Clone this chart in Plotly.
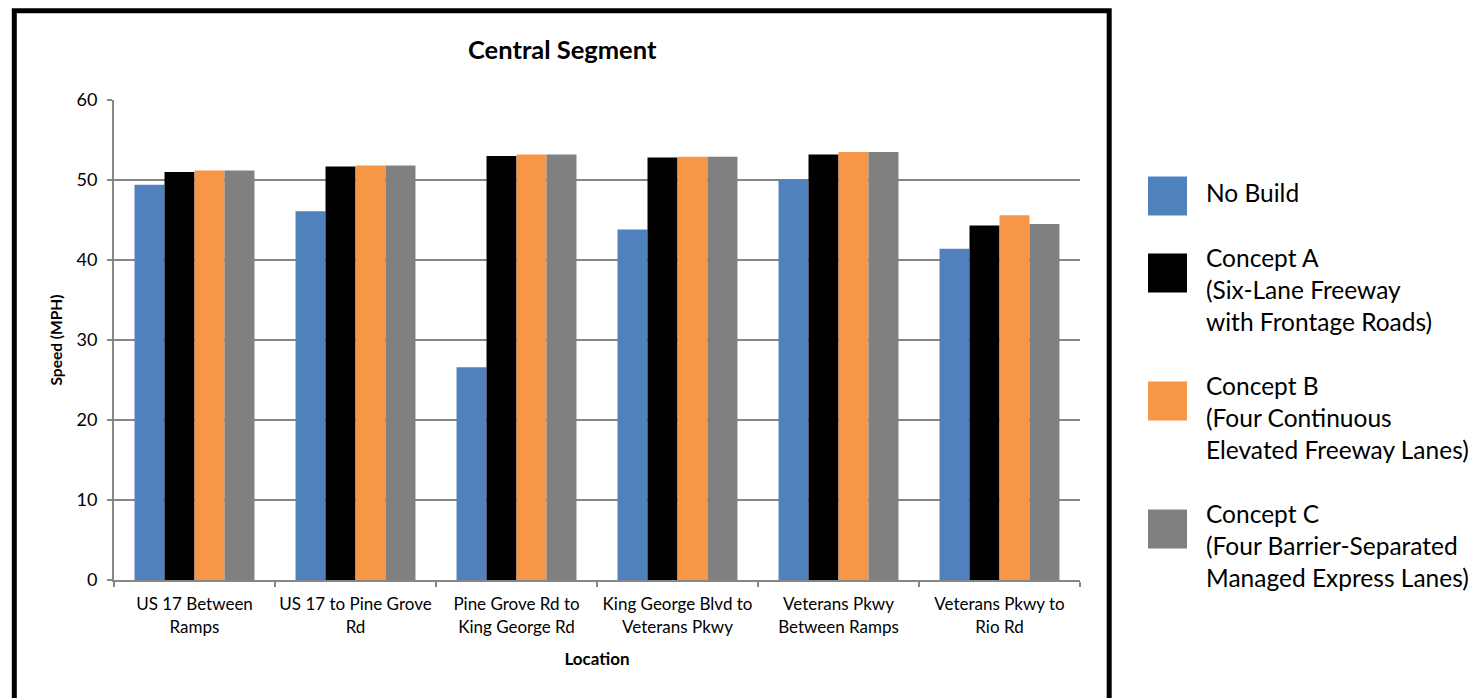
import plotly.graph_objects as go

# Segment locations along the corridor (x categories)
locations = [
    "US 17 Between<br>Ramps",
    "US 17 to Pine Grove<br>Rd",
    "Pine Grove Rd to<br>King George Rd",
    "King George Blvd to<br>Veterans Pkwy",
    "Veterans Pkwy<br>Between Ramps",
    "Veterans Pkwy to<br>Rio Rd",
]

# Average speeds (MPH) per scenario
no_build = [49.4, 46.1, 26.6, 43.8, 50.1, 41.4]
concept_a = [51.0, 51.7, 53.0, 52.8, 53.2, 44.3]
concept_b = [51.2, 51.8, 53.2, 52.9, 53.5, 45.6]
concept_c = [51.2, 51.8, 53.2, 52.9, 53.5, 44.5]

series_names = ["No Build", "Concept A", "Concept B", "Concept C"]
legend_labels = [
    "No Build",
    "Concept A<br>(Six-Lane Freeway<br>with Frontage Roads)",
    "Concept B<br>(Four Continuous<br>Elevated Freeway Lanes)",
    "Concept C<br>(Four Barrier-Separated<br>Managed Express Lanes)",
]
colors = ["#4F81BD", "#000000", "#F79646", "#808080"]

y_ticks = [0, 10, 20, 30, 40, 50, 60]

FONT = "Lato"
W, H = 1476, 698
L, R, T, B = 114, 1080, 100, 580   # plot-area edges in pixels


def px(x):
    return (x - L) / (R - L)


def py(y):
    return (B - y) / (B - T)


fig = go.Figure()
for name, vals, col in zip(series_names, [no_build, concept_a, concept_b, concept_c], colors):
    fig.add_trace(go.Bar(
        name=name, x=locations, y=vals,
        marker=dict(color=col, line=dict(width=0)),
        showlegend=False,
    ))

shapes = []
annotations = []

# Outer chart frame
shapes.append(dict(
    type="rect", xref="paper", yref="paper",
    x0=px(14.3), x1=px(1109.2), y0=py(730), y1=py(10.8),
    line=dict(color="black", width=5), fillcolor="rgba(0,0,0,0)", layer="above",
))

# Hand-built legend to the right of the frame
sq_centers = [196, 273, 401, 529]
txt_tops = [176, 241, 369, 497]
for lab, col, cy, ty in zip(legend_labels, colors, sq_centers, txt_tops):
    shapes.append(dict(
        type="rect", xref="paper", yref="paper",
        x0=px(1148), x1=px(1187), y0=py(cy + 19.5), y1=py(cy - 19.5),
        line=dict(width=0), fillcolor=col,
    ))
    annotations.append(dict(
        text=lab, xref="paper", yref="paper", x=px(1204), y=py(ty),
        xanchor="left", yanchor="top", align="left", showarrow=False,
        font=dict(family=FONT, size=24.5, color="black"),
    ))

# Chart title
annotations.append(dict(
    text="<b>Central Segment</b>", xref="paper", yref="paper",
    x=px(562), y=py(49.5), xanchor="center", yanchor="middle", showarrow=False,
    font=dict(family=FONT, size=25.5, color="black"),
))

fig.update_layout(
    width=W, height=H,
    margin=dict(l=L, r=W - R, t=T, b=H - B, pad=0),
    paper_bgcolor="white", plot_bgcolor="white",
    barmode="group", bargap=0.255, bargroupgap=0,
    font=dict(family=FONT, color="black"),
    shapes=shapes, annotations=annotations,
    xaxis=dict(
        type="category", tickson="boundaries", ticks="outside", ticklen=5,
        tickcolor="#868686", tickwidth=1.5,
        showline=True, linecolor="#868686", linewidth=2,
        showgrid=False, tickfont=dict(size=17, family=FONT), tickangle=0,
        ticklabelstandoff=8,
        title=dict(text="<b>Location</b>", font=dict(size=17, family=FONT), standoff=18),
    ),
    yaxis=dict(
        range=[0, 60], tickvals=y_ticks, ticks="outside", ticklen=5,
        tickcolor="#868686", tickwidth=1.5,
        showline=True, linecolor="#868686", linewidth=2,
        showgrid=True, gridcolor="#868686", gridwidth=1.5,
        zeroline=False, tickfont=dict(size=18, family=FONT),
        ticklabelstandoff=6,
        title=dict(text="<b>Speed (MPH)</b>", font=dict(size=15.5, family=FONT), standoff=10),
    ),
)

fig.write_html("out.html")
